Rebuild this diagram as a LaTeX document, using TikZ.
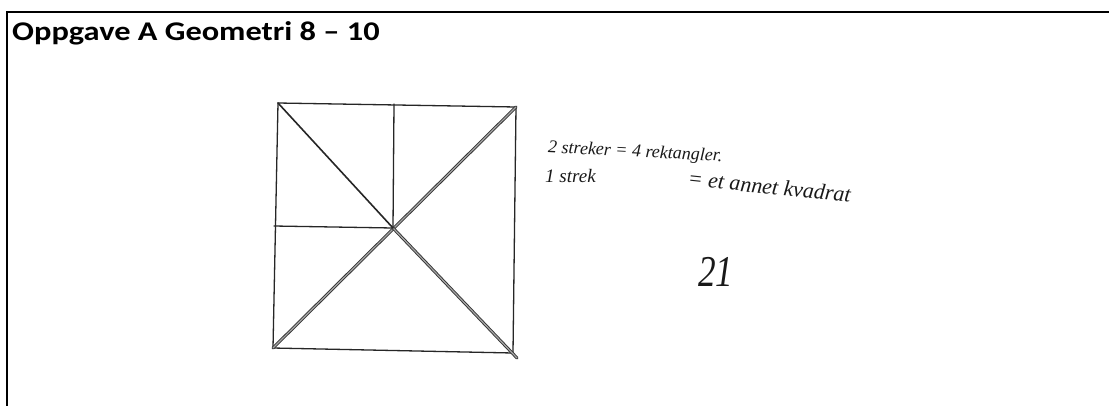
\documentclass[tikz,border=0pt]{standalone}
\usepackage{fontspec}
\setmainfont{Carlito}
\newfontfamily\handfont{Liberation Serif}
\begin{document}
\begin{tikzpicture}[x=1pt,y=-1pt,
  frame/.style={line width=2pt,draw=black},
  pen/.style={line width=1.3pt,draw=black!85,line cap=round},
  dbl/.style={line width=0.9pt,draw=black!80,double=black!35,double distance=1.2pt,line cap=round},
  hand/.style={font=\handfont\itshape,anchor=west,inner sep=0pt,text=black!90}]
\useasboundingbox (0,0) rectangle (1109,405);
\fill[white] (0,0) rectangle (1109,405);
\draw[frame] (7,406) -- (7,12) -- (1110,12);
\node[anchor=base west,inner sep=0pt,xscale=1.2,font=\bfseries\fontsize{27}{30}\selectfont] (title) at (12,40) {Oppgave A Geometri 8 -- 10};
% square
\coordinate (tl) at (278,103);
\coordinate (tr) at (516,107);
\coordinate (br) at (513,353);
\coordinate (bl) at (273,348);
\coordinate (c) at (393,228);
\coordinate (tm) at (394,104);
\coordinate (lm) at (274,226);
\coordinate (brx) at (517,358);
\draw[pen] (tl) -- (tr) -- (br) -- (bl) -- cycle;
\draw[pen] (tm) -- (c) -- (lm);
\draw[dbl] (bl) -- (tr);
\draw[dbl] (c) -- (brx);
\draw[pen,line width=1.6pt] (tl) -- (c);
% handwriting
\node[hand,font=\handfont\itshape\fontsize{18}{18}\selectfont,rotate=-3] (l1) at (548,148) {2 streker = 4 rektangler.};
\node[hand,font=\handfont\itshape\fontsize{19}{18}\selectfont] (l2a) at (545,176) {1 strek};
\node[hand,font=\handfont\itshape\fontsize{22}{22}\selectfont,rotate=-6] (l2b) at (688,178) {= et annet kvadrat};
\node[hand,font=\handfont\itshape\fontsize{44}{44}\selectfont,xscale=0.8] (n21) at (698,272) {21};
\end{tikzpicture}
\end{document}
